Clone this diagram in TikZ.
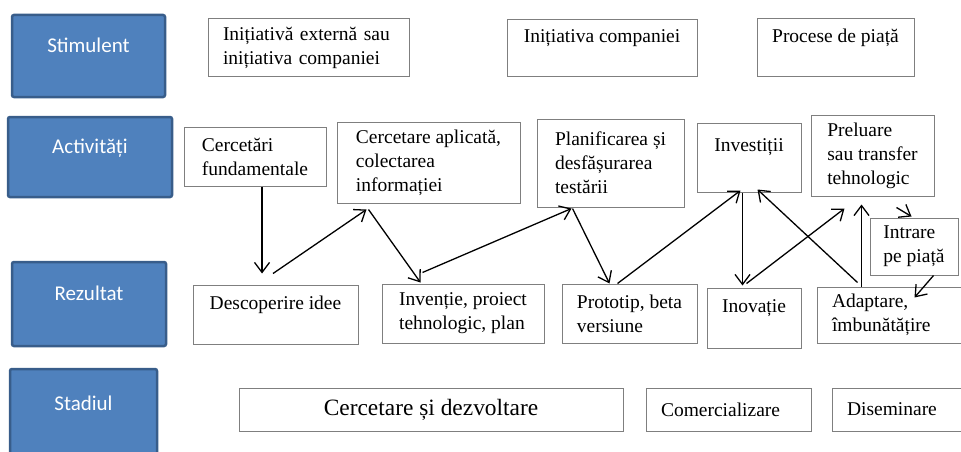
\documentclass[tikz,border=0pt]{standalone}
\usepackage{fontspec}
\setmainfont{Liberation Serif}
\newfontfamily\calibri{Carlito}
\usepackage{xcolor}
\usepackage{tikz}
\usetikzlibrary{arrows.meta}

\definecolor{blockblue}{HTML}{4F81BD}
\definecolor{blockedge}{HTML}{385D8A}
\definecolor{boxgray}{HTML}{7F7F7F}

\begin{document}
\begin{tikzpicture}[x=1pt, y=-1pt,
  bluenode/.style={rectangle, rounded corners=2pt, draw=blockedge, fill=blockblue, line width=2.5pt, text=white, align=center, font=\calibri\fontsize{21}{22}\selectfont},
  textnode/.style={rectangle, draw=boxgray, fill=white, line width=1pt, align=left, inner sep=0pt, font=\fontsize{19.5}{24}\selectfont},
  link/.style={line width=1.3pt, -{Straight Barb[length=10pt,width=15pt]}}]
\useasboundingbox (0,0) rectangle (961,452);

\node[bluenode, minimum width=153pt, minimum height=82pt] at (88.5,56) (stim) {Stimulent\\ \mbox{}};
\node[bluenode, minimum width=164pt, minimum height=80pt] at (90,157) (act) {Activități\\ \mbox{}};
\node[bluenode, minimum width=154pt, minimum height=84pt] at (89,304) (rez) {Rezultat\\ \mbox{}};
\node[bluenode, minimum width=147pt, minimum height=90pt] at (83.5,414) (stad) {Stadiul\\ \mbox{}};

\node[textnode, minimum width=201pt, minimum height=58pt, text width=171pt, inner xsep=15pt] at (308.5,48) (ext) {Inițiativă externă sau\\ inițiativa companiei};
\node[textnode, minimum width=190pt, minimum height=57pt, align=center] at (602,48) (comp) {Inițiativa companiei\\ \mbox{}};
\node[textnode, minimum width=157pt, minimum height=58pt, align=center] at (835.5,48) (proc) {Procese de piață\\ \mbox{}};

\node[textnode, minimum width=142pt, minimum height=59pt] at (255,156.5) (fund) {Cercetări\\ fundamentale};
\node[textnode, minimum width=183pt, minimum height=81pt] at (428.5,162.5) (aplic) {Cercetare aplicată,\\ colectarea\\ informației};
\node[textnode, minimum width=147pt, minimum height=88pt] at (610.5,163) (plan) {Planificarea și\\ desfășurarea\\ testării};
\node[textnode, minimum width=104pt, minimum height=69pt, align=center] at (749,157.5) (invest) {Investiții\\ \mbox{}};
\node[textnode, minimum width=123pt, minimum height=81pt] at (872.5,155.5) (prel) {Preluare\\ sau transfer\\ tehnologic};
\node[textnode, minimum width=88pt, minimum height=57pt] at (914,246.5) (intr) {Intrare\\ pe piață};

\node[textnode, minimum width=165pt, minimum height=59pt, align=center] at (275.5,314.5) (idee) {Descoperire idee\\ \mbox{}};
\node[textnode, minimum width=162pt, minimum height=59pt] at (463,313.5) (inventie) {Invenție, proiect\\ tehnologic, plan};
\node[textnode, minimum width=135pt, minimum height=59pt] at (629.5,313.5) (proto) {Prototip, beta\\ versiune};
\node[textnode, minimum width=94pt, minimum height=60pt, align=center] at (754,318) (inov) {Inovație\\ \mbox{}};
\node[textnode, minimum width=153pt, minimum height=56pt, text width=123pt, inner xsep=15pt] at (893.5,315) (adapt) {Adaptare,\\ îmbunătățire};

\node[textnode, minimum width=384pt, minimum height=43pt, align=center, font=\fontsize{23.4}{26}\selectfont] at (431,409.5) (cd) {Cercetare și dezvoltare};
\node[textnode, minimum width=165pt, minimum height=43pt, text width=135pt, inner xsep=15pt] at (728.5,409.5) (comerc) {Comercializare};
\node[textnode, minimum width=143pt, minimum height=43pt, text width=113pt, inner xsep=15pt] at (903.5,409.5) (disem) {Diseminare};

\draw[link] ([xshift=7pt]fund.south) -- ([xshift=-13.5pt,yshift=11pt]idee.north);
\draw[link] ([xshift=-2.5pt,yshift=11pt]idee.north) -- ([xshift=30pt,yshift=-6pt]aplic.south west);
\draw[link] ([xshift=32pt,yshift=-6pt]aplic.south west) -- ([xshift=39pt,yshift=1pt]inventie.north west);
\draw[link] ([xshift=41pt,yshift=11pt]inventie.north west) -- ([xshift=35pt,yshift=-1pt]plan.south west);
\draw[link] ([xshift=36pt,yshift=-1pt]plan.south west) -- ([xshift=48pt]proto.north west);
\draw[link] ([xshift=56pt]proto.north west) -- ([xshift=44pt,yshift=2pt]invest.south west);
\draw[link] ([xshift=46pt]invest.south west) -- ([xshift=36pt,yshift=2pt]inov.north west);
\draw[link] ([xshift=40pt,yshift=4pt]inov.north west) -- ([xshift=34pt,yshift=-12pt]prel.south west);
\draw[link] ([xshift=45pt]adapt.north west) -- ([xshift=51pt,yshift=-8pt]prel.south west);
\draw[link] ([xshift=41pt,yshift=4pt]adapt.north west) -- ([xshift=61pt,yshift=3pt]invest.south west);
\draw[link] ([xshift=86pt,yshift=-11pt]prel.south west) -- ([xshift=42pt,yshift=1pt]intr.north west);
\draw[link] ([xshift=64pt]intr.south west) -- ([xshift=98pt,yshift=-11pt]adapt.north west);

\end{tikzpicture}
\end{document}
